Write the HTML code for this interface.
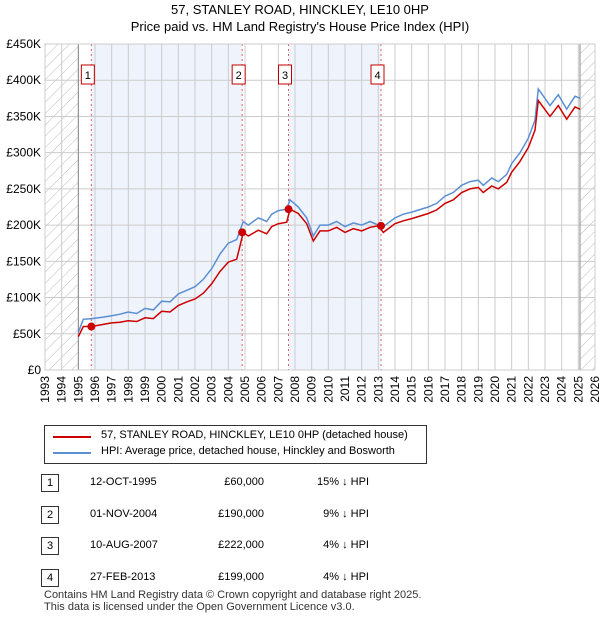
<!DOCTYPE html>
<html><head><meta charset="utf-8"><style>
body{margin:0;background:#fff;font-family:"Liberation Sans","DejaVu Sans",sans-serif;}
#wrap{position:relative;width:600px;height:620px;overflow:hidden}
.t{position:absolute;font-size:12px;color:#000;white-space:nowrap}
.row span{position:absolute;font-size:11px}
.num{position:absolute;left:41px;width:16px;height:16px;border:1px solid #333;text-align:center;font-size:11px;line-height:16px}
</style></head><body><div id="wrap">
<div class="t" style="left:0;width:600px;text-align:center;top:2px;font-size:13px">57, STANLEY ROAD, HINCKLEY, LE10 0HP</div>
<div class="t" style="left:0;width:600px;text-align:center;top:19px;font-size:13px">Price paid vs. HM Land Registry's House Price Index (HPI)</div>
<svg id="chart" width="600" height="420" style="position:absolute;left:0;top:0"></svg>
<div style="position:absolute;left:44px;top:425px;width:381px;height:37px;border:1px solid #333">
<div style="position:absolute;left:8px;top:10px;width:38px;height:2px;background:#cc0000"></div>
<div class="t" style="left:56px;top:3px;font-size:11px">57, STANLEY ROAD, HINCKLEY, LE10 0HP (detached house)</div>
<div style="position:absolute;left:8px;top:26px;width:38px;height:2px;background:#5b8fd4"></div>
<div class="t" style="left:56px;top:19px;font-size:11px">HPI: Average price, detached house, Hinckley and Bosworth</div>
</div>
<div id="rows"></div>
<div class="t" style="left:44px;top:589px;font-size:11px;color:#333;line-height:12px">Contains HM Land Registry data © Crown copyright and database right 2025.<br>This data is licensed under the Open Government Licence v3.0.</div>
</div>
<script>
const dates=[1995.0,1995.3,1995.8,1996.5,1997,1997.5,1998,1998.5,1999,1999.5,2000,2000.5,2001,2001.5,2002,2002.5,2003,2003.5,2004,2004.5,2004.9,2005.2,2005.8,2006.3,2006.6,2007,2007.5,2007.7,2008.2,2008.7,2009.1,2009.5,2010,2010.5,2011,2011.5,2012,2012.5,2013,2013.3,2014,2014.5,2015,2016,2016.5,2017,2017.5,2018,2018.5,2019,2019.3,2019.8,2020.2,2020.7,2021,2021.5,2022,2022.4,2022.6,2023.3,2023.8,2024.3,2024.8,2025.1];
const hpi=[52,70,71,73,75,77,80,78,85,83,95,94,105,110,115,125,140,160,175,180,205,200,210,205,215,220,222,235,225,210,185,200,200,205,198,203,200,205,200,198,210,215,218,225,230,240,245,255,260,262,255,265,260,270,285,300,320,345,388,365,380,360,378,375];
const red=[46,60,60,63,65,66,68,67,72,71,81,80,89,94,98,106,119,136,149,153,190,185,193,188,198,202,204,222,216,202,178,192,192,197,190,195,192,197,199,190,202,206,209,216,221,230,235,245,250,252,245,254,250,259,273,288,307,331,372,350,365,346,363,360];
const saleDates=[1995.78,2004.83,2007.61,2013.16];
const salePrices=[60,190,222,199];
const saleLabels=["12-OCT-1995","01-NOV-2004","10-AUG-2007","27-FEB-2013"];
const salePriceText=["£60,000","£190,000","£222,000","£199,000"];
const saleHpiText=["15% ↓ HPI","9% ↓ HPI","4% ↓ HPI","4% ↓ HPI"];
const yTicks=[0,50,100,150,200,250,300,350,400,450];
const yTickLabels=["£0","£50K","£100K","£150K","£200K","£250K","£300K","£350K","£400K","£450K"];
const x0=45,x1=595,y0=370,y1=44,minY=1993,maxY=2026;
const X=v=>x0+(v-minY)/(maxY-minY)*(x1-x0);
const Y=v=>y0-v/450*(y0-y1);
const s=document.getElementById('chart');const NS='http://www.w3.org/2000/svg';
function el(t,a,p){const e=document.createElementNS(NS,t);for(const k in a)e.setAttribute(k,a[k]);(p||s).appendChild(e);return e;}
const defs=el('defs',{});
const pat=el('pattern',{id:'h',width:8,height:8,patternUnits:'userSpaceOnUse',patternTransform:'rotate(45)'},defs);
el('line',{x1:0,y1:0,x2:0,y2:8,stroke:'#bbb','stroke-width':1},pat);
let r=el('rect',{x:x0,y:y1,width:X(1995)-x0,height:y0-y1,fill:'url(#h)'});

r=el('rect',{x:X(2025.1),y:y1,width:x1-X(2025.1),height:y0-y1,fill:'url(#h)'});

r=el('rect',{x:X(saleDates[0]),y:y1,width:X(saleDates[1])-X(saleDates[0]),height:y0-y1,fill:'#eef3fc'});

r=el('rect',{x:X(saleDates[2]),y:y1,width:X(saleDates[3])-X(saleDates[2]),height:y0-y1,fill:'#eef3fc'});

for(let yr=minY;yr<=maxY;yr++){
 const l=el('line',{x1:X(yr),x2:X(yr),y1:y1,y2:y0,stroke:'#ccc','stroke-width':1});
 
 const t=el('text',{x:0,y:0,transform:`translate(${X(yr)+4},${y0+6}) rotate(-90)`,'text-anchor':'end','font-size':12,'font-family':'Liberation Sans, sans-serif'});
 t.textContent=yr;
}
yTicks.forEach((v,i)=>{
 const l=el('line',{x1:x0,x2:x1,y1:Y(v),y2:Y(v),stroke:'#ccc','stroke-width':1});
 
 const t=el('text',{x:x0-4,y:Y(v)+4,'text-anchor':'end','font-size':12,'font-family':'Liberation Sans, sans-serif'});
 t.textContent=yTickLabels[i];
});
let l=el('line',{x1:X(1995),x2:X(1995),y1:y1,y2:y0,stroke:'#888'});

l=el('line',{x1:X(2025.1),x2:X(2025.1),y1:y1,y2:y0,stroke:'#888'});

saleDates.forEach((d,i)=>{
 const v=el('line',{x1:X(d),x2:X(d),y1:y1,y2:y0,stroke:'#e06060','stroke-dasharray':'2,3'});
 
 const b=el('rect',{x:X(d)-10,y:65,width:13,height:19,fill:'#fff',stroke:'#c00000'});
 
 const t=el('text',{x:X(d)-3.5,y:79,'text-anchor':'middle','font-size':11,'font-family':'Liberation Sans, sans-serif'});
 t.textContent=i+1;
});
const pts=a=>dates.map((d,i)=>X(d).toFixed(1)+','+Y(a[i]).toFixed(1)).join(' ');
let p=el('polyline',{points:pts(hpi),fill:'none',stroke:'#5b8fd4','stroke-width':1.5});

p=el('polyline',{points:pts(red),fill:'none',stroke:'#cc0000','stroke-width':1.5});

saleDates.forEach((d,i)=>{
 const c=el('circle',{cx:X(d),cy:Y(salePrices[i]),r:4,fill:'#cc0000'});
 
});
l=el('rect',{x:x0,y:y1,width:x1-x0,height:y0-y1,fill:'none',stroke:'#ccc'});

const rows=document.getElementById('rows');
saleLabels.forEach((lab,i)=>{
 const top=474+i*31.5;
 const row=document.createElement('div');row.className='row';row.style.cssText=`position:absolute;left:0;top:${top}px;width:600px;height:18px`;
 
 
 row.innerHTML=`<div class="num">${i+1}</div><span style="left:90px;top:2px">${lab}</span><span style="left:170px;width:94px;text-align:right;top:2px">${salePriceText[i]}</span><span style="left:300px;width:69px;text-align:right;top:2px">${saleHpiText[i]}</span>`;
 rows.appendChild(row);
});
</script></body></html>
